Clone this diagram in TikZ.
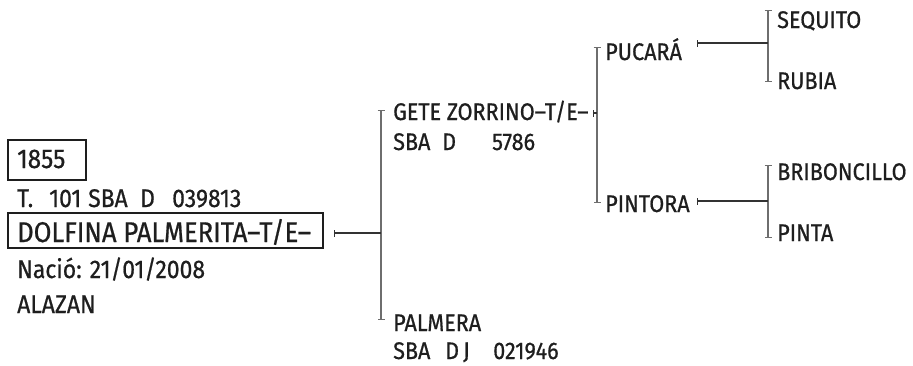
\documentclass[tikz,border=0pt]{standalone}
\usepackage{fontspec}
\setmainfont{Fira Sans}[FakeStretch=0.9,FakeBold=0.7]
\usetikzlibrary{arrows.meta}
\definecolor{txt}{HTML}{1E1E1E}
\definecolor{vline}{HTML}{6E6E6E}
\definecolor{hline}{HTML}{333333}
\tikzset{
  lbl/.style={anchor=base west, inner sep=0pt, text=txt, font=\fontsize{24}{24}\selectfont},
  lblL/.style={anchor=base west, inner sep=0pt, text=txt, font=\fontsize{25.5}{25.5}\selectfont},
  big/.style={anchor=base west, inner sep=0pt, text=txt, font=\fontsize{28.5}{28.5}\selectfont},
  framebox/.style={draw=txt, line width=1.2pt},
  bracket/.style={draw=vline, line width=2pt, {Bar[width=7pt,line width=1.3pt]}-{Bar[width=7pt,line width=1.3pt]}},
  link/.style={draw=hline, line width=1.1pt, {Bar[width=7pt,line width=1.1pt]}-},
}
\begin{document}
\begin{tikzpicture}[x=1pt,y=-1pt]
\useasboundingbox (0,0) rectangle (913,365);
% subject
\draw[framebox] (8,140) rectangle (86,180);
\node[lbl, font=\fontsize{27}{27}\selectfont] (num) at (17,168) {1855};
\node[lblL] (t1) at (17,207) {T.};
\node[lblL] (t2) at (49,207) {101};
\node[lblL] (t3) at (88,207) {SBA};
\node[lblL] (t4) at (140,207) {D};
\node[lblL] (t5) at (172,207) {039813};
\draw[framebox] (8,213) rectangle (323,248);
\node[big] (dolfina) at (17,242) {DOLFINA PALMERITA–T/E–};
\node[lblL] (nacio) at (17,278) {Nació: 21/01/2008};
\node[lblL] (alazan) at (17,313) {ALAZAN};
% generation 1
\node[lbl] (gete) at (393,120) {GETE ZORRINO–T/E–};
\node[lbl] (g1) at (393,150) {SBA};
\node[lbl] (g2) at (442,150) {D};
\node[lbl] (g3) at (492,150) {5786};
\node[lbl] (palmera) at (393,331) {PALMERA};
\node[lbl] (p1) at (393,359) {SBA};
\node[lbl] (p2) at (445,359) {D};
\node[lbl] (p3) at (463,359) {J};
\node[lbl] (p4) at (493,359) {021946};
% generation 2
\node[lbl] (pucara) at (605,60) {PUCARÁ};
\node[lbl] (pintora) at (605,212) {PINTORA};
% generation 3
\node[lbl] (sequito) at (777,28) {SEQUITO};
\node[lbl] (rubia) at (777,89) {RUBIA};
\node[lbl] (bribon) at (777,180) {BRIBONCILLO};
\node[lbl] (pinta) at (777,241) {PINTA};
% coordinates
\coordinate (s0) at (334,233);
\coordinate (b1t) at (381,110);
\coordinate (b1m) at (381,233);
\coordinate (b1b) at (381,320);
\coordinate (g0) at (593,113);
\coordinate (b2t) at (597,47);
\coordinate (b2m) at (597,113);
\coordinate (b2b) at (597,203);
\coordinate (u0) at (697,43);
\coordinate (b3t) at (768,10);
\coordinate (b3m) at (768,43);
\coordinate (b3b) at (768,82);
\coordinate (i0) at (697,201);
\coordinate (b4t) at (768,165);
\coordinate (b4m) at (768,201);
\coordinate (b4b) at (768,238);
% connectors
\draw[bracket] (b1t) -- (b1b);
\draw[link] (s0) -- (b1m);
\draw[bracket] (b2t) -- (b2b);
\draw[link] (g0) -- (b2m);
\draw[bracket] (b3t) -- (b3b);
\draw[link] (u0) -- (b3m);
\draw[bracket] (b4t) -- (b4b);
\draw[link] (i0) -- (b4m);
\end{tikzpicture}
\end{document}
